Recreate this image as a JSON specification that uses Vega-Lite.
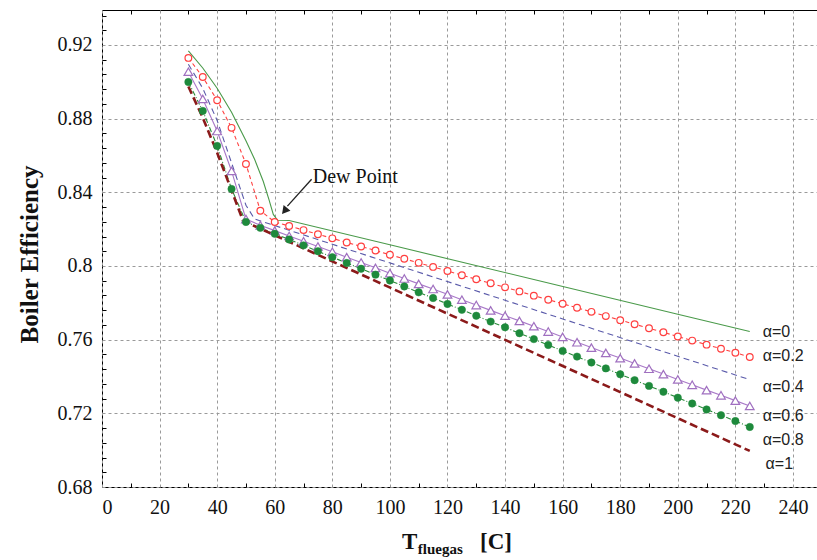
{
  "$schema": "https://vega.github.io/schema/vega-lite/v6.json",
  "width": 716,
  "height": 477,
  "autosize": "none",
  "padding": {"left": 102, "top": 10, "right": 0, "bottom": 73},
  "background": "white",
  "config": {"view": {"stroke": "#000", "strokeWidth": 1}, "font": "Liberation Serif"},
  "datasets": {
    "s0": [{"T":30,"eff":0.9168},{"T":35,"eff":0.9075},{"T":40,"eff":0.8965},{"T":45,"eff":0.8835},{"T":50,"eff":0.868},{"T":53,"eff":0.858},{"T":56,"eff":0.846},{"T":58,"eff":0.836},{"T":59.5,"eff":0.828},{"T":61,"eff":0.8248},{"T":65,"eff":0.8247},{"T":100,"eff":0.8115},{"T":150,"eff":0.7927},{"T":200,"eff":0.7738},{"T":225,"eff":0.7644}],
    "s02": [{"T":30,"eff":0.913},{"T":35,"eff":0.9026},{"T":40,"eff":0.89},{"T":45,"eff":0.875},{"T":50,"eff":0.8554},{"T":55,"eff":0.83},{"T":60,"eff":0.8239},{"T":65,"eff":0.8217},{"T":70,"eff":0.8195},{"T":75,"eff":0.8172},{"T":80,"eff":0.815},{"T":85,"eff":0.8128},{"T":90,"eff":0.8106},{"T":95,"eff":0.8084},{"T":100,"eff":0.8061},{"T":105,"eff":0.8039},{"T":110,"eff":0.8017},{"T":115,"eff":0.7995},{"T":120,"eff":0.7973},{"T":125,"eff":0.795},{"T":130,"eff":0.7928},{"T":135,"eff":0.7906},{"T":140,"eff":0.7884},{"T":145,"eff":0.7862},{"T":150,"eff":0.7839},{"T":155,"eff":0.7817},{"T":160,"eff":0.7795},{"T":165,"eff":0.7773},{"T":170,"eff":0.7751},{"T":175,"eff":0.7728},{"T":180,"eff":0.7706},{"T":185,"eff":0.7684},{"T":190,"eff":0.7662},{"T":195,"eff":0.764},{"T":200,"eff":0.7617},{"T":205,"eff":0.7595},{"T":210,"eff":0.7573},{"T":215,"eff":0.7551},{"T":220,"eff":0.7529},{"T":225,"eff":0.7506}],
    "s04": [{"T":30,"eff":0.9095},{"T":35,"eff":0.8965},{"T":40,"eff":0.879},{"T":45,"eff":0.856},{"T":50,"eff":0.833},{"T":53,"eff":0.8255},{"T":225,"eff":0.7383}],
    "s06": [{"T":30,"eff":0.9055},{"T":35,"eff":0.8907},{"T":40,"eff":0.8733},{"T":45,"eff":0.8516},{"T":50,"eff":0.8255},{"T":55,"eff":0.8221},{"T":60,"eff":0.8192},{"T":65,"eff":0.8163},{"T":70,"eff":0.8134},{"T":75,"eff":0.8106},{"T":80,"eff":0.8077},{"T":85,"eff":0.8048},{"T":90,"eff":0.8019},{"T":95,"eff":0.799},{"T":100,"eff":0.7961},{"T":105,"eff":0.7932},{"T":110,"eff":0.7903},{"T":115,"eff":0.7875},{"T":120,"eff":0.7846},{"T":125,"eff":0.7817},{"T":130,"eff":0.7788},{"T":135,"eff":0.7759},{"T":140,"eff":0.773},{"T":145,"eff":0.7702},{"T":150,"eff":0.7673},{"T":155,"eff":0.7644},{"T":160,"eff":0.7615},{"T":165,"eff":0.7586},{"T":170,"eff":0.7557},{"T":175,"eff":0.7528},{"T":180,"eff":0.75},{"T":185,"eff":0.7471},{"T":190,"eff":0.7442},{"T":195,"eff":0.7413},{"T":200,"eff":0.7384},{"T":205,"eff":0.7355},{"T":210,"eff":0.7326},{"T":215,"eff":0.7298},{"T":220,"eff":0.7269},{"T":225,"eff":0.724}],
    "s08": [{"T":30,"eff":0.8999},{"T":35,"eff":0.8842},{"T":40,"eff":0.8652},{"T":45,"eff":0.8418},{"T":50,"eff":0.8239},{"T":55,"eff":0.8207},{"T":60,"eff":0.8175},{"T":65,"eff":0.8144},{"T":70,"eff":0.8112},{"T":75,"eff":0.808},{"T":80,"eff":0.8048},{"T":85,"eff":0.8016},{"T":90,"eff":0.7985},{"T":95,"eff":0.7953},{"T":100,"eff":0.7921},{"T":105,"eff":0.7889},{"T":110,"eff":0.7857},{"T":115,"eff":0.7826},{"T":120,"eff":0.7794},{"T":125,"eff":0.7762},{"T":130,"eff":0.773},{"T":135,"eff":0.7698},{"T":140,"eff":0.7667},{"T":145,"eff":0.7635},{"T":150,"eff":0.7603},{"T":155,"eff":0.7571},{"T":160,"eff":0.7539},{"T":165,"eff":0.7508},{"T":170,"eff":0.7476},{"T":175,"eff":0.7444},{"T":180,"eff":0.7412},{"T":185,"eff":0.738},{"T":190,"eff":0.7349},{"T":195,"eff":0.7317},{"T":200,"eff":0.7285},{"T":205,"eff":0.7253},{"T":210,"eff":0.7221},{"T":215,"eff":0.719},{"T":220,"eff":0.7158},{"T":225,"eff":0.7126}],
    "s1": [{"T":30,"eff":0.8975},{"T":35,"eff":0.8805},{"T":40,"eff":0.8615},{"T":45,"eff":0.841},{"T":49,"eff":0.8245},{"T":225,"eff":0.6996}],
    "labels": [{"T":229.5,"eff":0.7642,"label":"α=0"},{"T":229.5,"eff":0.7512,"label":"α=0.2"},{"T":229.5,"eff":0.7343,"label":"α=0.4"},{"T":229.5,"eff":0.7186,"label":"α=0.6"},{"T":229.5,"eff":0.7056,"label":"α=0.8"},{"T":230.5,"eff":0.6925,"label":"α=1"}],
    "notes": [{"T":73.2,"eff":0.8451,"text":"Dew Point"}],
    "arrow": [{"T":72.8,"eff":0.8471,"T2":64.4,"eff2":0.8325}],
    "head": [{"T":63.4,"eff":0.8299}],
    "xtitle": [{"T":104.2,"eff":0.6461,"text":"T","part":"main"},{"T":109.7,"eff":0.6434,"text":"fluegas","part":"sub"},{"T":131.3,"eff":0.6461,"text":"[C]","part":"main"}]
  },
  "resolve": {"axis": {"x": "independent", "y": "independent"}},
  "layer": [
    {
      "data": {"name": "s0"},
      "mark": {"type": "point", "opacity": 0},
      "encoding": {
        "x": {"field": "T", "type": "quantitative", "scale": {"domain": [0, 248.7], "nice": false, "zero": false},
          "axis": {"orient": "bottom", "values": [0,20,40,60,80,100,120,140,160,180,200,220,240], "format": "d", "title": null, "domain": false, "ticks": false,
            "grid": true, "gridColor": "#9a9a9a", "gridDash": [3, 3], "gridWidth": 1,
            "labelFont": "Liberation Serif", "labelFontSize": 20, "labelColor": "#111", "labelPadding": 10}},
        "y": {"field": "eff", "type": "quantitative", "scale": {"domain": [0.68, 0.939], "nice": false, "zero": false},
          "axis": {"orient": "left", "values": [0.68,0.72,0.76,0.8,0.84,0.88,0.92], "format": "~g", "domain": false, "ticks": false,
            "grid": true, "gridColor": "#9a9a9a", "gridDash": [3, 3], "gridWidth": 1,
            "labelFont": "Liberation Serif", "labelFontSize": 20, "labelColor": "#111", "labelPadding": 10,
            "title": "Boiler Efficiency", "titleFont": "Liberation Serif", "titleFontWeight": "bold", "titleFontSize": 25, "titleColor": "#111",
            "titleX": -73, "titleY": 244, "titleAngle": -90, "titleBaseline": "middle", "titleAlign": "center"}}
      }
    },
    {
      "data": {"name": "s0"},
      "mark": {"type": "point", "opacity": 0},
      "encoding": {
        "x": {"field": "T", "type": "quantitative",
          "axis": {"orient": "bottom", "values": [10,30,50,70,90,110,130,150,170,190,210,230], "labels": false, "domain": false, "grid": false, "title": null,
            "ticks": true, "tickSize": -4, "tickColor": "#000", "tickWidth": 1}},
        "y": {"field": "eff", "type": "quantitative",
          "axis": {"orient": "left", "values": [0.688,0.696,0.704,0.712,0.728,0.736,0.744,0.752,0.768,0.776,0.784,0.792,0.808,0.816,0.824,0.832,0.848,0.856,0.864,0.872,0.888,0.896,0.904,0.912,0.928,0.936], "labels": false, "domain": false, "grid": false, "title": null,
            "ticks": true, "tickSize": -4, "tickColor": "#000", "tickWidth": 1}}
      }
    },
    {
      "data": {"name": "s0"},
      "mark": {"type": "point", "opacity": 0},
      "encoding": {
        "x": {"field": "T", "type": "quantitative",
          "axis": {"orient": "top", "values": [10,30,50,70,90,110,130,150,170,190,210,230], "labels": false, "domain": false, "grid": false, "title": null,
            "ticks": true, "tickSize": -4, "tickColor": "#000", "tickWidth": 1}},
        "y": {"field": "eff", "type": "quantitative", "axis": null}
      }
    },
    {"data": {"name": "s0"}, "mark": {"type": "line", "color": "#4a9a4a", "strokeWidth": 1.1},
      "encoding": {"x": {"field": "T", "type": "quantitative", "axis": null}, "y": {"field": "eff", "type": "quantitative", "axis": null}}},
    {"data": {"name": "s02"}, "mark": {"type": "line", "color": "#ff4040", "strokeWidth": 1.1, "strokeDash": [4, 3]},
      "encoding": {"x": {"field": "T", "type": "quantitative", "axis": null}, "y": {"field": "eff", "type": "quantitative", "axis": null}}},
    {"data": {"name": "s04"}, "mark": {"type": "line", "color": "#5a5aaa", "strokeWidth": 1.1, "strokeDash": [6, 4]},
      "encoding": {"x": {"field": "T", "type": "quantitative", "axis": null}, "y": {"field": "eff", "type": "quantitative", "axis": null}}},
    {"data": {"name": "s06"}, "mark": {"type": "line", "color": "#a878c8", "strokeWidth": 1.1},
      "encoding": {"x": {"field": "T", "type": "quantitative", "axis": null}, "y": {"field": "eff", "type": "quantitative", "axis": null}}},
    {"data": {"name": "s08"}, "mark": {"type": "line", "color": "#2a8a3a", "strokeWidth": 1.1, "strokeDash": [5, 2, 1, 2]},
      "encoding": {"x": {"field": "T", "type": "quantitative", "axis": null}, "y": {"field": "eff", "type": "quantitative", "axis": null}}},
    {"data": {"name": "s1"}, "mark": {"type": "line", "color": "#8b1a1a", "strokeWidth": 2.6, "strokeDash": [8, 4]},
      "encoding": {"x": {"field": "T", "type": "quantitative", "axis": null}, "y": {"field": "eff", "type": "quantitative", "axis": null}}},
    {"data": {"name": "s02"}, "mark": {"type": "point", "shape": "circle", "size": 45, "filled": true, "fill": "white", "stroke": "#ff4040", "strokeWidth": 1.2, "opacity": 1},
      "encoding": {"x": {"field": "T", "type": "quantitative", "axis": null}, "y": {"field": "eff", "type": "quantitative", "axis": null}}},
    {"data": {"name": "s06"}, "mark": {"type": "point", "shape": "triangle-up", "size": 75, "filled": true, "fill": "white", "stroke": "#a070c0", "strokeWidth": 1.2, "opacity": 1},
      "encoding": {"x": {"field": "T", "type": "quantitative", "axis": null}, "y": {"field": "eff", "type": "quantitative", "axis": null}}},
    {"data": {"name": "s08"}, "mark": {"type": "point", "shape": "circle", "size": 55, "filled": true, "fill": "#1e8a3c", "stroke": "#1e8a3c", "strokeWidth": 0.5, "opacity": 1},
      "encoding": {"x": {"field": "T", "type": "quantitative", "axis": null}, "y": {"field": "eff", "type": "quantitative", "axis": null}}},
    {"data": {"name": "labels"}, "mark": {"type": "text", "align": "left", "baseline": "middle", "font": "Liberation Sans", "fontSize": 16, "color": "#222"},
      "encoding": {"x": {"field": "T", "type": "quantitative", "axis": null}, "y": {"field": "eff", "type": "quantitative", "axis": null}, "text": {"field": "label"}}},
    {"data": {"name": "notes"}, "mark": {"type": "text", "align": "left", "baseline": "alphabetic", "font": "Liberation Serif", "fontSize": 20, "color": "#111"},
      "encoding": {"x": {"field": "T", "type": "quantitative", "axis": null}, "y": {"field": "eff", "type": "quantitative", "axis": null}, "text": {"field": "text"}}},
    {"data": {"name": "arrow"}, "mark": {"type": "rule", "color": "#222", "strokeWidth": 1.3},
      "encoding": {"x": {"field": "T", "type": "quantitative", "axis": null}, "y": {"field": "eff", "type": "quantitative", "axis": null}, "x2": {"field": "T2"}, "y2": {"field": "eff2"}}},
    {"data": {"name": "head"}, "mark": {"type": "point", "shape": "triangle-up", "size": 80, "filled": true, "color": "#222", "angle": 220, "opacity": 1},
      "encoding": {"x": {"field": "T", "type": "quantitative", "axis": null}, "y": {"field": "eff", "type": "quantitative", "axis": null}}},
    {"data": {"name": "xtitle"}, "transform": [{"filter": "datum.part == 'main'"}], "mark": {"type": "text", "align": "left", "baseline": "alphabetic", "font": "Liberation Serif", "fontWeight": "bold", "fontSize": 23, "color": "#111"},
      "encoding": {"x": {"field": "T", "type": "quantitative", "axis": null}, "y": {"field": "eff", "type": "quantitative", "axis": null}, "text": {"field": "text"}}},
    {"data": {"name": "xtitle"}, "transform": [{"filter": "datum.part == 'sub'"}], "mark": {"type": "text", "align": "left", "baseline": "alphabetic", "font": "Liberation Serif", "fontWeight": "bold", "fontSize": 15, "color": "#111"},
      "encoding": {"x": {"field": "T", "type": "quantitative", "axis": null}, "y": {"field": "eff", "type": "quantitative", "axis": null}, "text": {"field": "text"}}}
  ]
}
